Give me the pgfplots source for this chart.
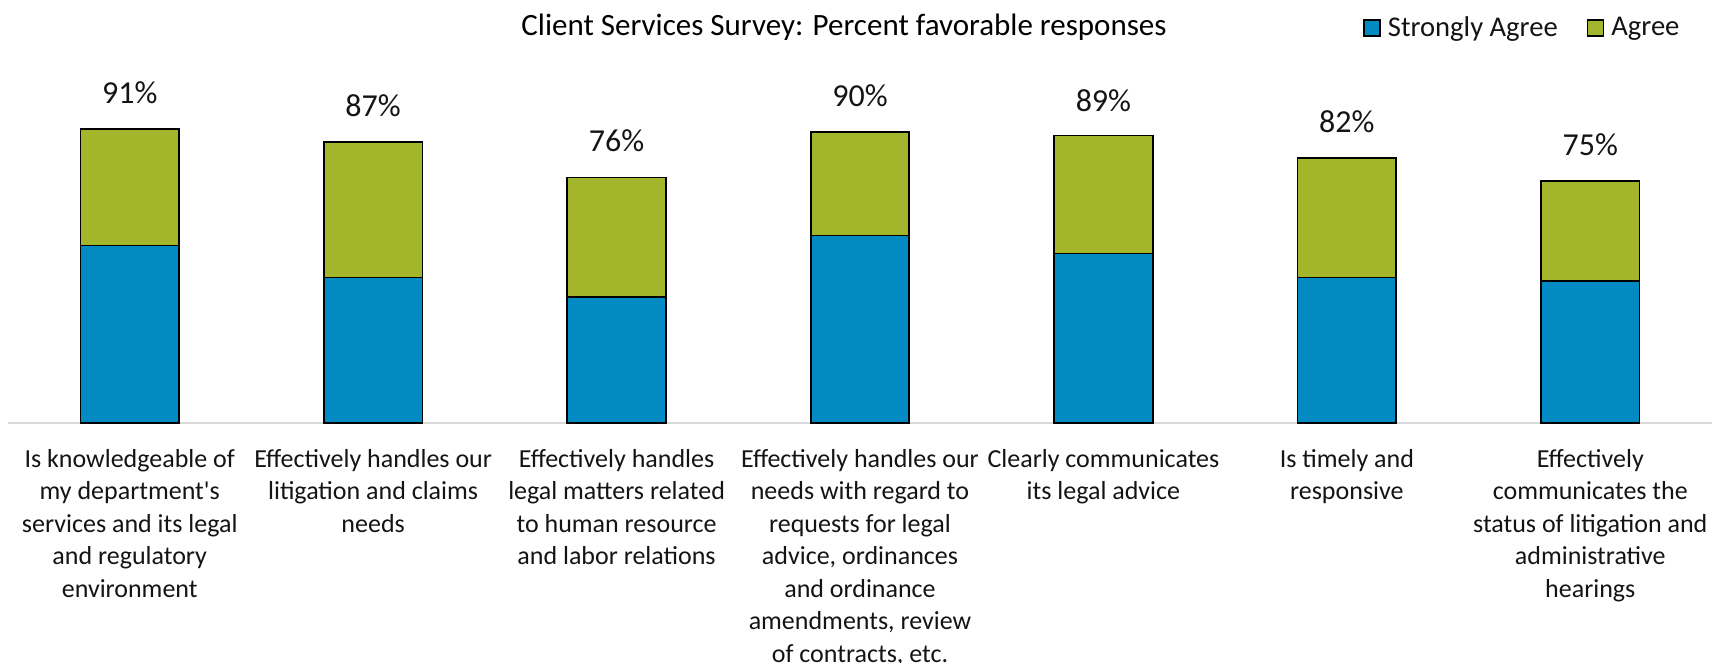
\documentclass[border=0pt]{standalone}
\usepackage{pgfplots}
\pgfplotsset{compat=1.18}
\usepackage{fontspec}
\setmainfont{Carlito}
\definecolor{sablue}{RGB}{2,138,194}
\definecolor{agreen}{RGB}{163,181,42}
\definecolor{txt}{RGB}{20,20,20}
\pgfplotsset{base/.style={
  at={(0,0)}, anchor=south west,
  scale only axis,
  width=852pt, height=161.5pt,
  xmin=-0.5, xmax=6.5, ymin=0, ymax=100,
  clip=false}}
\begin{document}
\begin{tikzpicture}
\begin{axis}[
  base,
  ybar stacked, bar width=0.405,
  axis x line=bottom,
  hide y axis,
  x axis line style={draw=black!15, line width=1.2pt, -},
  major tick length=0pt,
  xtick={0,1,2,3,4,5,6},
  xticklabels={
    {Is knowledgeable of\\my department\textquotesingle s\\services and its legal\\and regulatory\\environment},
    {Effectively handles our\\litigation and claims\\needs},
    {Effectively handles\\legal matters related\\to human resource\\and labor relations},
    {Effectively handles our\\needs with regard to\\requests for legal\\advice, ordinances\\and ordinance\\amendments, review\\of contracts, etc.},
    {Clearly communicates\\its legal advice},
    {Is timely and\\responsive},
    {Effectively\\communicates the\\status of litigation and\\administrative\\hearings}
  },
  xticklabel style={align=center, anchor=north, inner sep=0pt, yshift=-13pt,
    font=\fontsize{13}{16.25}\selectfont, text=txt},
  legend style={at={(axis cs:5.066,122.2)}, anchor=west, draw=none, fill=none,
    inner sep=0pt, font=\fontsize{14.3}{17}\selectfont, text=txt,
    legend columns=2,
    nodes={inner sep=0pt},
    /tikz/every odd column/.append style={column sep=3.5pt},
    /tikz/every even column/.append style={column sep=14.5pt}},
  legend image code/.code={\draw[#1, draw=black, line width=0.8pt] (0pt,-4pt) rectangle (8pt,4pt);},
]
\addplot[fill=sablue, draw=black, line width=0.8pt] coordinates {
  (0,55) (1,45) (2,39) (3,58) (4,52.5) (5,45) (6,44)};
\addlegendentry{Strongly Agree}
\addplot[fill=agreen, draw=black, line width=0.8pt] coordinates {
  (0,36) (1,42) (2,37) (3,32) (4,36.5) (5,37) (6,31)};
\addlegendentry{Agree}
\node[anchor=center, inner sep=0pt, font=\fontsize{15.5}{18}\selectfont, text=black]
  at (axis cs:2.934,122.6) {Client Services Survey: Percent favorable responses};
\end{axis}
\begin{axis}[
  base, hide axis,
  nodes near coords align={},
]
\addplot[draw=none, mark=none,
  point meta=explicit symbolic, nodes near coords,
  every node near coord/.style={anchor=center, yshift=18.25pt, inner sep=0pt,
    font=\fontsize{16}{19}\selectfont, text=txt}] coordinates {
  (0,91)[91\%] (1,87)[87\%] (2,76)[76\%] (3,90)[90\%] (4,88.5)[89\%] (5,82)[82\%] (6,75)[75\%]};
\end{axis}
\pgfresetboundingbox
\path[use as bounding box] (-4pt,-120pt) rectangle (858.5pt,211.5pt);
\end{tikzpicture}
\end{document}
